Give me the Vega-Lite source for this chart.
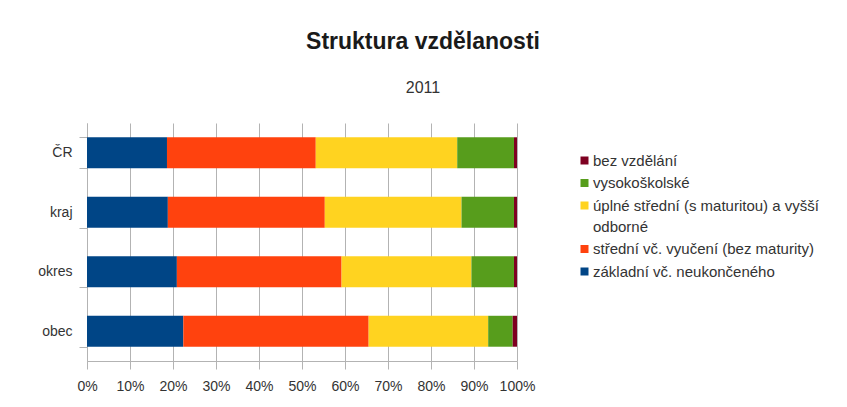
{
  "$schema": "https://vega.github.io/schema/vega-lite/v6.json",
  "width": 430,
  "height": 238,
  "autosize": {"type": "none"},
  "padding": {"left": 87, "top": 123, "right": 330, "bottom": 46},
  "background": "white",
  "title": {
    "text": "Struktura vzdělanosti",
    "subtitle": "2011",
    "anchor": "middle",
    "frame": "group",
    "dx": 121,
    "offset": 20,
    "font": "Liberation Sans",
    "fontSize": 23,
    "fontWeight": "bold",
    "color": "#1a1a1a",
    "subtitleFont": "Liberation Sans",
    "subtitleFontSize": 16,
    "subtitleColor": "#333333",
    "subtitlePadding": 26
  },
  "data": {
    "values": [
      {"region": "ČR", "cat": "základní vč.  neukončeného", "value": 18.6},
      {"region": "ČR", "cat": "střední vč. vyučení (bez maturity)", "value": 34.6},
      {"region": "ČR", "cat": "úplné střední (s maturitou) a vyšší odborné", "value": 32.9},
      {"region": "ČR", "cat": "vysokoškolské", "value": 13.2},
      {"region": "ČR", "cat": "bez vzdělání", "value": 0.7},
      {"region": "kraj", "cat": "základní vč.  neukončeného", "value": 18.8},
      {"region": "kraj", "cat": "střední vč. vyučení (bez maturity)", "value": 36.5},
      {"region": "kraj", "cat": "úplné střední (s maturitou) a vyšší odborné", "value": 31.8},
      {"region": "kraj", "cat": "vysokoškolské", "value": 12.2},
      {"region": "kraj", "cat": "bez vzdělání", "value": 0.7},
      {"region": "okres", "cat": "základní vč.  neukončeného", "value": 20.9},
      {"region": "okres", "cat": "střední vč. vyučení (bez maturity)", "value": 38.3},
      {"region": "okres", "cat": "úplné střední (s maturitou) a vyšší odborné", "value": 30.2},
      {"region": "okres", "cat": "vysokoškolské", "value": 9.9},
      {"region": "okres", "cat": "bez vzdělání", "value": 0.7},
      {"region": "obec", "cat": "základní vč.  neukončeného", "value": 22.4},
      {"region": "obec", "cat": "střední vč. vyučení (bez maturity)", "value": 43.1},
      {"region": "obec", "cat": "úplné střední (s maturitou) a vyšší odborné", "value": 27.8},
      {"region": "obec", "cat": "vysokoškolské", "value": 5.7},
      {"region": "obec", "cat": "bez vzdělání", "value": 1.0}
    ]
  },
  "transform": [
    {"calculate": "indexof(['základní vč.  neukončeného', 'střední vč. vyučení (bez maturity)', 'úplné střední (s maturitou) a vyšší odborné', 'vysokoškolské', 'bez vzdělání'], datum.cat)", "as": "k"}
  ],
  "mark": {"type": "bar"},
  "encoding": {
    "y": {
      "field": "region",
      "type": "nominal",
      "sort": ["ČR", "kraj", "okres", "obec"],
      "scale": {"paddingInner": 0.48, "paddingOuter": 0.24},
      "axis": {
        "title": null,
        "tickBand": "extent",
        "tickSize": 8,
        "labelPadding": 7,
        "labelFontSize": 14,
        "labelFont": "Liberation Sans",
        "labelColor": "#333333",
        "domainColor": "#b3b3b3",
        "tickColor": "#b3b3b3",
        "grid": false
      }
    },
    "x": {
      "field": "value",
      "type": "quantitative",
      "stack": "normalize",
      "scale": {"domain": [0, 1], "nice": false},
      "axis": {
        "title": null,
        "values": [0, 0.1, 0.2, 0.3, 0.4, 0.5, 0.6, 0.7, 0.8, 0.9, 1],
        "format": ".0%",
        "grid": true,
        "gridColor": "#b3b3b3",
        "tickSize": 8,
        "labelPadding": 10,
        "labelFontSize": 14,
        "labelFont": "Liberation Sans",
        "labelColor": "#333333",
        "domainColor": "#b3b3b3",
        "tickColor": "#b3b3b3",
        "labelFlush": false
      }
    },
    "color": {
      "field": "cat",
      "type": "nominal",
      "scale": {
        "domain": ["bez vzdělání", "vysokoškolské", "úplné střední (s maturitou) a vyšší odborné", "střední vč. vyučení (bez maturity)", "základní vč.  neukončeného"],
        "range": ["#7e0021", "#579d1c", "#ffd320", "#ff420e", "#004586"]
      },
      "legend": {
        "title": null,
        "orient": "none",
        "legendX": 490,
        "legendY": 30,
        "padding": 0,
        "symbolType": "square",
        "symbolSize": 64,
        "symbolStrokeWidth": 0,
        "labelOffset": 1,
        "labelFontSize": 15,
        "labelFont": "Liberation Sans",
        "labelColor": "#333333",
        "labelLimit": 300,
        "labelBaseline": "top",
        "rowPadding": 6.5,
        "labelExpr": "datum.label == 'úplné střední (s maturitou) a vyšší odborné' ? ['úplné střední (s maturitou) a vyšší', 'odborné'] : datum.label",
        "encode": {
          "labels": {
            "update": {
              "dy": {"value": -7}
            }
          }
        }
      }
    },
    "order": {"field": "k", "type": "quantitative"}
  },
  "config": {
    "view": {"stroke": null},
    "style": {"guide-label": {"lineHeight": 21}}
  }
}
